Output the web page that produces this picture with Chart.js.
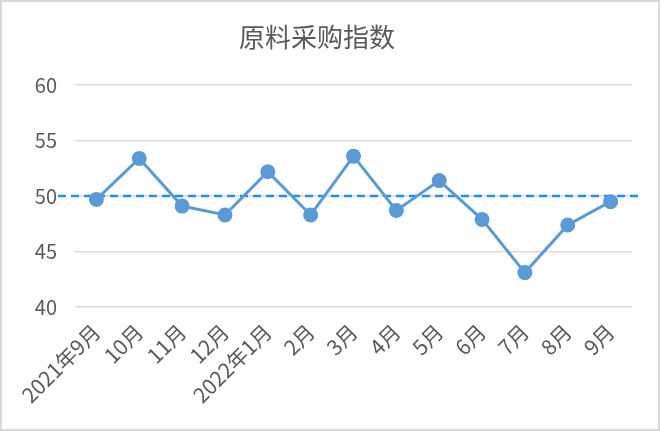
<!DOCTYPE html>
<html>
<head>
<meta charset="utf-8">
<script src="https://cdn.jsdelivr.net/npm/chart.js@4/dist/chart.umd.min.js"></script>
<style>
  html, body { margin: 0; padding: 0; background: #fff; }
  #wrap { width: 660px; height: 431px; box-sizing: border-box; border: 2px solid #d9d9d9; }
</style>
</head>
<body>
<div id="wrap"><canvas id="myChart"></canvas></div>
<script>
const months = ['2021年9月', '10月', '11月', '12月', '2022年1月', '2月', '3月', '4月', '5月', '6月', '7月', '8月', '9月'];
const index = [49.7, 53.4, 49.1, 48.3, 52.2, 48.3, 53.6, 48.7, 51.4, 47.9, 43.1, 47.4, 49.5];
const refValue = 50;
const yMin = 40;
const yMax = 60;
const yStep = 5;

const ctx = document.getElementById('myChart');

// dashed 50 line, drawn under the series
const refLine = {
  id: 'refLine',
  beforeDatasetsDraw(chart) {
    const c = chart.ctx;
    const area = chart.chartArea;
    const y = chart.scales.y.getPixelForValue(refValue);
    c.save();
    c.strokeStyle = '#1e8ff0';
    c.lineWidth = 2.5;
    c.setLineDash([8, 5]);
    c.beginPath();
    c.moveTo(area.left - 17, y);
    c.lineTo(area.right + 8, y);
    c.stroke();
    c.restore();
  }
};

const chart = new Chart(ctx, {
  type: 'line',
  data: {
    labels: months,
    datasets: [{
      label: '原料采购指数',
      data: index,
      borderColor: '#5b9bd5',
      backgroundColor: '#5b9bd5',
      borderWidth: 3,
      pointRadius: 6,
      pointHoverRadius: 6,
      tension: 0
    }]
  },
  options: {
    responsive: true,
    maintainAspectRatio: false,
    animation: false,
    layout: {
      padding: { left: 0, right: 26, top: 0, bottom: 0 }
    },
    scales: {
      y: {
        min: yMin,
        max: yMax,
        afterFit: (axis) => { axis.width = 73; },
        ticks: {
          stepSize: yStep,
          color: '#595959',
          padding: 18,
          font: { family: '"Noto Sans CJK SC", "Noto Sans", sans-serif', size: 20 }
        },
        grid: { color: '#d9d9d9', lineWidth: 1.5, drawTicks: false },
        border: { display: false }
      },
      x: {
        offset: true,
        afterFit: (axis) => { axis.height = 122; },
        ticks: {
          color: '#595959',
          minRotation: 45,
          maxRotation: 45,
          autoSkip: false,
          padding: 12,
          font: { family: '"Noto Sans CJK SC", "Noto Sans", sans-serif', size: 21 }
        },
        grid: { display: false, drawTicks: false },
        border: { display: false }
      }
    },
    plugins: {
      legend: { display: false },
      tooltip: { enabled: false },
      title: {
        display: true,
        text: '原料采购指数',
        color: '#595959',
        padding: { top: 20, bottom: 32 },
        font: { family: '"Noto Sans CJK SC", "Noto Sans", sans-serif', size: 26, weight: 'normal' }
      }
    }
  },
  plugins: [refLine]
});
</script>
</body>
</html>
